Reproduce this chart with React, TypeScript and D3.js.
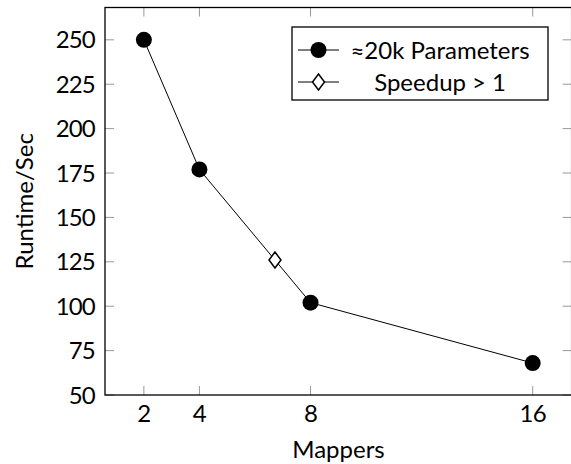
import React from "react";
import * as d3 from "d3";

const mappers = [2, 4, 8, 16];
const runtimes = [250, 177, 102, 68];
const speedupX = [6.72];
const speedupY = [126];
const yTicks = [50, 75, 100, 125, 150, 175, 200, 225, 250];
const xTicks = [2, 4, 8, 16];
const legendLabels = ["≈20k Parameters", "Speedup > 1"];

const W = 571;
const H = 464;
const FONT = "Lato, 'Open Sans', sans-serif";
const FS = 24;

export default function App() {
  const x = d3.scaleLinear().domain([0.6, 17.4]).range([105, 571.6]);
  const y = d3.scaleLinear().domain([50, 268.2]).range([395, 7.5]);
  const line = d3
    .line<number>()
    .x((_, i) => x(mappers[i]))
    .y((d) => y(d));
  const left = x.range()[0];
  const right = x.range()[1];
  const top = y.range()[1];
  const bottom = y.range()[0];
  const tl = 9;
  const diamond = (cx: number, cy: number) =>
    `M${cx},${cy - 8}L${cx + 6},${cy}L${cx},${cy + 8}L${cx - 6},${cy}Z`;

  const legX = 292, legY = 27, legW = 256, legH = 73;
  const rowY = [50, 82];
  return (
    <svg
      width={W}
      height={H}
      style={{ position: "absolute", left: 0, top: 0, background: "#fff" }}
      fontFamily={FONT}
      fontWeight={400}
    >
      {xTicks.map((t) => (
        <g key={"x" + t} stroke="#999" strokeWidth={1}>
          <line x1={x(t)} x2={x(t)} y1={bottom} y2={bottom - tl} />
          <line x1={x(t)} x2={x(t)} y1={top} y2={top + tl} />
        </g>
      ))}
      {yTicks.map((t) => (
        <g key={"y" + t} stroke="#999" strokeWidth={1}>
          <line x1={left} x2={left + tl} y1={y(t)} y2={y(t)} />
          <line x1={right} x2={right - tl} y1={y(t)} y2={y(t)} />
        </g>
      ))}
      <rect
        x={left}
        y={top}
        width={right - left}
        height={bottom - top}
        fill="none"
        stroke="#000"
        strokeWidth={1.3}
      />
      {xTicks.map((t) => (
        <text key={"xl" + t} x={x(t)} y={422} textAnchor="middle" fontSize={FS} letterSpacing={-0.8} fill="#000">
          {t}
        </text>
      ))}
      {yTicks.map((t) => (
        <text
          key={"yl" + t}
          x={95}
          y={y(t)}
          dy="0.36em"
          textAnchor="end"
          fontSize={FS}
          letterSpacing={-0.8}
          fill="#000"
        >
          {t}
        </text>
      ))}
      <text x={338.5} y={458} textAnchor="middle" fontSize={FS} fill="#000">
        Mappers
      </text>
      <text
        transform={`translate(33,${(top + bottom) / 2}) rotate(-90)`}
        textAnchor="middle"
        fontSize={FS}
        fill="#000"
      >
        Runtime/Sec
      </text>
      <path d={line(runtimes) || ""} fill="none" stroke="#000" strokeWidth={1} />
      {runtimes.map((v, i) => (
        <circle key={"c" + i} cx={x(mappers[i])} cy={y(v)} r={8} fill="#000" />
      ))}
      {speedupX.map((v, i) => (
        <path
          key={"d" + i}
          d={diamond(x(v), y(speedupY[i]))}
          fill="#fff"
          stroke="#000"
          strokeWidth={1.5}
        />
      ))}
      <rect x={legX} y={legY} width={legW} height={legH} fill="#fff" stroke="#000" strokeWidth={1.3} />
      <line x1={298} x2={339} y1={rowY[0]} y2={rowY[0]} stroke="#000" strokeWidth={1} />
      <circle cx={318.5} cy={rowY[0]} r={8} fill="#000" />
      <line x1={298} x2={339} y1={rowY[1]} y2={rowY[1]} stroke="#000" strokeWidth={1} />
      <path d={diamond(318.5, rowY[1])} fill="#fff" stroke="#000" strokeWidth={1.5} />
      {legendLabels.map((l, i) => (
        <text key={l} x={440} y={rowY[i]} dy="0.36em" textAnchor="middle" fontSize={FS} fill="#000">
          {i === 1 ? (
            <>
              Speedup<tspan dx={6}>&gt;</tspan>
              <tspan dx={6}>1</tspan>
            </>
          ) : (
            l
          )}
        </text>
      ))}
    </svg>
  );
}
